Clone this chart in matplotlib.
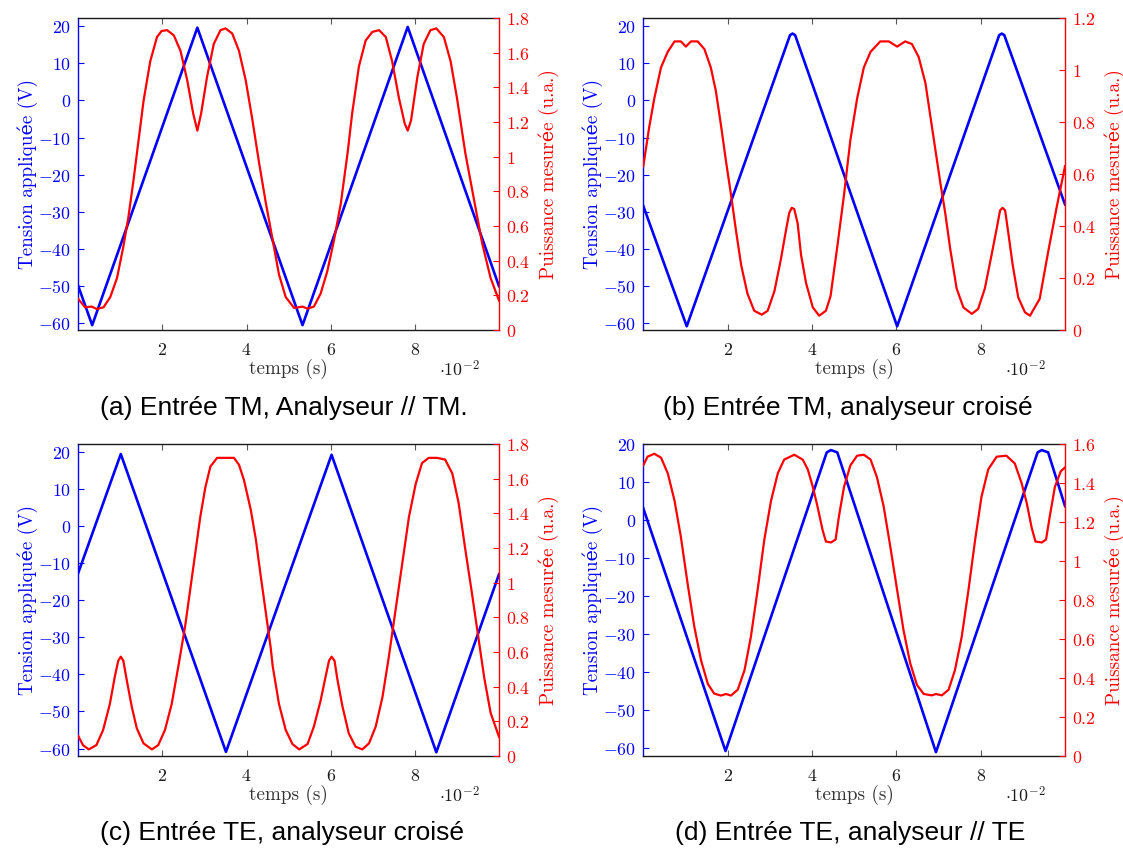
import matplotlib
matplotlib.use("Agg")
import matplotlib.pyplot as plt
from matplotlib.ticker import FuncFormatter

plt.rcParams["mathtext.fontset"] = "cm"
SERIF = ["cmr10", "DejaVu Serif"]

# ---------------- data (time in 1e-2 s) ----------------
# (a) Entrée TM, analyseur // TM
a_volt_t = [0.0, 0.33, 2.83, 5.33, 7.83, 10.0]
a_volt_v = [-50, -60.5, 19.6, -60.5, 19.8, -50]
a_pow_t = [0.0, 0.16, 0.32, 0.44, 0.6, 0.76, 0.92, 1.07, 1.19, 1.31, 1.43, 1.55, 1.71, 1.87,
           1.98, 2.11, 2.27, 2.43, 2.59, 2.73, 2.83, 2.92, 3.06, 3.22, 3.38, 3.5, 3.66, 3.82,
           3.98, 4.14, 4.3, 4.46, 4.62, 4.77, 4.93, 5.13, 5.33, 5.45, 5.6, 5.76, 5.92, 6.08,
           6.24, 6.4, 6.51, 6.67, 6.83, 6.99, 7.15, 7.31, 7.46, 7.62, 7.76, 7.83, 7.91, 8.06,
           8.21, 8.37, 8.51, 8.69, 8.85, 9.0, 9.2, 9.4, 9.6, 9.8, 10.0]
a_pow_p = [0.179, 0.131, 0.135, 0.121, 0.131, 0.19, 0.30, 0.48, 0.65, 0.86, 1.09, 1.32, 1.55, 1.69,
           1.725, 1.73, 1.70, 1.61, 1.44, 1.25, 1.15, 1.25, 1.46, 1.65, 1.73, 1.74, 1.71, 1.61,
           1.44, 1.21, 0.96, 0.73, 0.52, 0.32, 0.19, 0.127, 0.135, 0.123, 0.135, 0.21, 0.34, 0.52,
           0.73, 1.02, 1.25, 1.52, 1.67, 1.72, 1.73, 1.69, 1.55, 1.34, 1.19, 1.15, 1.21, 1.46,
           1.65, 1.73, 1.74, 1.69, 1.55, 1.34, 1.02, 0.76, 0.50, 0.30, 0.17]

# (b) Entrée TM, analyseur croisé
b_volt_t = [0.0, 1.03, 3.48, 3.54, 3.6, 6.02, 8.44, 8.5, 8.56, 10.0]
b_volt_v = [-28.4, -60.8, 17.6, 18.0, 17.6, -60.8, 17.6, 18.0, 17.6, -28.0]
b_pow_t = [0.0, 0.14, 0.26, 0.42, 0.58, 0.74, 0.89, 1.01, 1.13, 1.29, 1.45, 1.6, 1.72, 1.84,
           1.96, 2.08, 2.2, 2.32, 2.47, 2.63, 2.81, 2.95, 3.11, 3.26, 3.38, 3.46, 3.52, 3.58,
           3.66, 3.74, 3.86, 4.02, 4.17, 4.33, 4.44, 4.6, 4.76, 4.91, 5.07, 5.23, 5.39, 5.62,
           5.82, 6.02, 6.21, 6.37, 6.53, 6.69, 6.8, 6.92, 7.04, 7.16, 7.28, 7.43, 7.59, 7.79,
           7.94, 8.1, 8.26, 8.38, 8.46, 8.52, 8.58, 8.65, 8.76, 8.89, 9.05, 9.17, 9.4, 9.6,
           9.8, 10.0]
b_pow_p = [0.63, 0.78, 0.89, 1.01, 1.07, 1.11, 1.11, 1.09, 1.11, 1.11, 1.08, 1.01, 0.92, 0.79,
           0.65, 0.52, 0.38, 0.25, 0.14, 0.074, 0.059, 0.074, 0.15, 0.27, 0.38, 0.45, 0.47, 0.465,
           0.41, 0.29, 0.18, 0.087, 0.055, 0.074, 0.13, 0.32, 0.52, 0.73, 0.89, 1.01, 1.07, 1.11,
           1.11, 1.09, 1.11, 1.10, 1.05, 0.95, 0.83, 0.70, 0.57, 0.45, 0.31, 0.16, 0.087, 0.062,
           0.081, 0.16, 0.29, 0.39, 0.46, 0.47, 0.46, 0.38, 0.25, 0.126, 0.068, 0.055, 0.12, 0.30,
           0.47, 0.63]

# (c) Entrée TE, analyseur croisé
c_volt_t = [0.0, 1.01, 3.51, 6.02, 8.51, 10.0]
c_volt_v = [-12.6, 19.4, -60.9, 19.2, -61.0, -13.0]
c_pow_t = [0.0, 0.11, 0.25, 0.43, 0.59, 0.75, 0.87, 0.95, 1.01, 1.07, 1.15, 1.27, 1.39, 1.55,
           1.75, 1.9, 2.06, 2.22, 2.38, 2.54, 2.66, 2.78, 2.9, 3.02, 3.14, 3.3, 3.5, 3.7,
           3.82, 3.94, 4.1, 4.22, 4.33, 4.45, 4.57, 4.62, 4.77, 4.93, 5.09, 5.25, 5.45, 5.6,
           5.76, 5.88, 5.96, 6.02, 6.09, 6.16, 6.28, 6.43, 6.59, 6.75, 6.91, 7.07, 7.23, 7.38,
           7.54, 7.7, 7.86, 8.02, 8.17, 8.33, 8.53, 8.72, 8.89, 9.04, 9.2, 9.35, 9.5, 9.65,
           9.8, 10.0]
c_pow_p = [0.115, 0.063, 0.038, 0.063, 0.15, 0.30, 0.46, 0.55, 0.573, 0.55, 0.44, 0.285, 0.16, 0.073,
           0.038, 0.063, 0.15, 0.30, 0.52, 0.75, 0.96, 1.17, 1.38, 1.55, 1.67, 1.72, 1.72, 1.72,
           1.68, 1.59, 1.42, 1.25, 1.05, 0.84, 0.63, 0.52, 0.30, 0.15, 0.069, 0.038, 0.069, 0.17,
           0.32, 0.46, 0.55, 0.573, 0.55, 0.44, 0.285, 0.13, 0.054, 0.038, 0.073, 0.17, 0.34, 0.57,
           0.84, 1.11, 1.38, 1.57, 1.69, 1.72, 1.72, 1.71, 1.63, 1.46, 1.19, 0.95, 0.70, 0.45,
           0.25, 0.11]

# (d) Entrée TE, analyseur // TE
d_volt_t = [0.0, 1.95, 4.35, 4.45, 4.6, 6.94, 9.35, 9.45, 9.6, 10.0]
d_volt_v = [3.1, -60.7, 17.8, 18.4, 17.8, -61.0, 17.8, 18.4, 17.8, 3.7]
d_pow_t = [0.0, 0.1, 0.26, 0.42, 0.58, 0.74, 0.89, 1.05, 1.21, 1.37, 1.53, 1.68, 1.84, 1.96,
           2.08, 2.24, 2.4, 2.55, 2.71, 2.87, 3.03, 3.19, 3.34, 3.58, 3.78, 3.9, 4.02, 4.13,
           4.25, 4.33, 4.45, 4.56, 4.64, 4.76, 4.91, 5.07, 5.23, 5.39, 5.54, 5.7, 5.86, 6.02,
           6.17, 6.33, 6.49, 6.65, 6.84, 6.94, 7.08, 7.24, 7.39, 7.55, 7.71, 7.87, 8.02, 8.18,
           8.38, 8.61, 8.81, 8.97, 9.09, 9.21, 9.3, 9.45, 9.55, 9.64, 9.76, 9.9, 10.0]
d_pow_p = [1.49, 1.535, 1.55, 1.53, 1.45, 1.31, 1.125, 0.885, 0.663, 0.49, 0.37, 0.32, 0.31, 0.318,
           0.31, 0.34, 0.44, 0.61, 0.85, 1.11, 1.31, 1.45, 1.52, 1.545, 1.52, 1.47, 1.38, 1.28,
           1.16, 1.10, 1.095, 1.11, 1.23, 1.38, 1.49, 1.54, 1.545, 1.52, 1.43, 1.28, 1.07, 0.85,
           0.646, 0.475, 0.364, 0.318, 0.311, 0.318, 0.311, 0.34, 0.44, 0.61, 0.85, 1.11, 1.33, 1.47,
           1.535, 1.54, 1.50, 1.40, 1.30, 1.17, 1.10, 1.095, 1.11, 1.23, 1.38, 1.46, 1.48]

captions = ["(a) Entrée TM, Analyseur // TM.", "(b) Entrée TM, analyseur croisé",
            "(c) Entrée TE, analyseur croisé", "(d) Entrée TE, analyseur // TE"]
volt_ylims = [(-61.8, 22.2), (-61.8, 22.2), (-62.0, 22.1), (-62.0, 20.0)]
pow_ylims = [(0, 1.8), (0, 1.2), (0, 1.8), (0, 1.6)]
pow_ticks = [[0, 0.2, 0.4, 0.6, 0.8, 1, 1.2, 1.4, 1.6, 1.8],
             [0, 0.2, 0.4, 0.6, 0.8, 1, 1.2],
             [0, 0.2, 0.4, 0.6, 0.8, 1, 1.2, 1.4, 1.6, 1.8],
             [0, 0.2, 0.4, 0.6, 0.8, 1, 1.2, 1.4, 1.6]]
volt_ticks = [-60, -50, -40, -30, -20, -10, 0, 10, 20]
time_ticks = [2, 4, 6, 8]

series = [(a_volt_t, a_volt_v, a_pow_t, a_pow_p),
          (b_volt_t, b_volt_v, b_pow_t, b_pow_p),
          (c_volt_t, c_volt_v, c_pow_t, c_pow_p),
          (d_volt_t, d_volt_v, d_pow_t, d_pow_p)]

# ---------------- layout ----------------
W, H = 1123, 851
fig = plt.figure(figsize=(W / 100, H / 100), dpi=100)
boxes = [(78.3, 18, 499, 330), (643.3, 18, 1065, 330),
         (78.3, 444, 499, 756), (643.3, 444, 1065, 756)]
cap_pos = [(284, 408), (848, 408), (282, 833), (850, 833)]

fmt = FuncFormatter(lambda v, p: r"$%g$" % v)
TICK_FS = 12.8
LAB_FS = 13.8

for i, (box, (vt, vv, pt, pp)) in enumerate(zip(boxes, series)):
    x0, y0, x1, y1 = box
    ax = fig.add_axes([x0 / W, 1 - y1 / H, (x1 - x0) / W, (y1 - y0) / H])
    ax.plot(vt, vv, color="blue", lw=1.9, zorder=2)
    ax.set_xlim(0, 10)
    ax.set_ylim(*volt_ylims[i])
    ax.set_xticks(time_ticks)
    ax.set_yticks(volt_ticks)
    ax.xaxis.set_major_formatter(fmt)
    ax.yaxis.set_major_formatter(fmt)
    ax.tick_params(axis="x", direction="in", top=True, length=4, width=0.8,
                   color="0.35", labelsize=TICK_FS, pad=8, labelcolor="0.1")
    ax.tick_params(axis="y", direction="in", length=4, width=0.8, colors="blue",
                   labelsize=TICK_FS, pad=5)
    for s in ["top", "bottom"]:
        ax.spines[s].set_color("0.1")
        ax.spines[s].set_linewidth(1.0)
    ax.spines["left"].set_color("blue")
    ax.spines["left"].set_linewidth(1.0)
    ax.spines["right"].set_visible(False)
    ax.set_xlabel("temps (s)", family=SERIF, fontsize=LAB_FS, color="0.2", labelpad=0)
    ax.set_ylabel("Tension appliquée (V)", family=SERIF, fontsize=LAB_FS, color="blue",
                  labelpad=0)
    ax.text(0.905, -0.13, r"$\cdot 10^{-2}$", transform=ax.transAxes, ha="center",
            va="center", fontsize=TICK_FS, color="0.1")

    ax2 = ax.twinx()
    ax2.plot(pt, pp, color="red", lw=1.6, zorder=3)
    ax2.set_ylim(*pow_ylims[i])
    ax2.set_yticks(pow_ticks[i])
    ax2.yaxis.set_major_formatter(fmt)
    ax2.tick_params(axis="y", direction="in", length=4, width=0.8, colors="red",
                    labelsize=TICK_FS, pad=5)
    for s in ["top", "bottom", "left"]:
        ax2.spines[s].set_visible(False)
    ax2.spines["right"].set_color("red")
    ax2.spines["right"].set_linewidth(1.0)
    ax2.set_ylabel("Puissance mesurée (u.a.)", family=SERIF, fontsize=LAB_FS, color="red",
                   rotation=90, labelpad=6)

    cx, cy = cap_pos[i]
    fig.text(cx / W, 1 - cy / H, captions[i], ha="center", va="center",
             family="Liberation Sans", fontsize=19)

fig.savefig("out.png", dpi=100)
